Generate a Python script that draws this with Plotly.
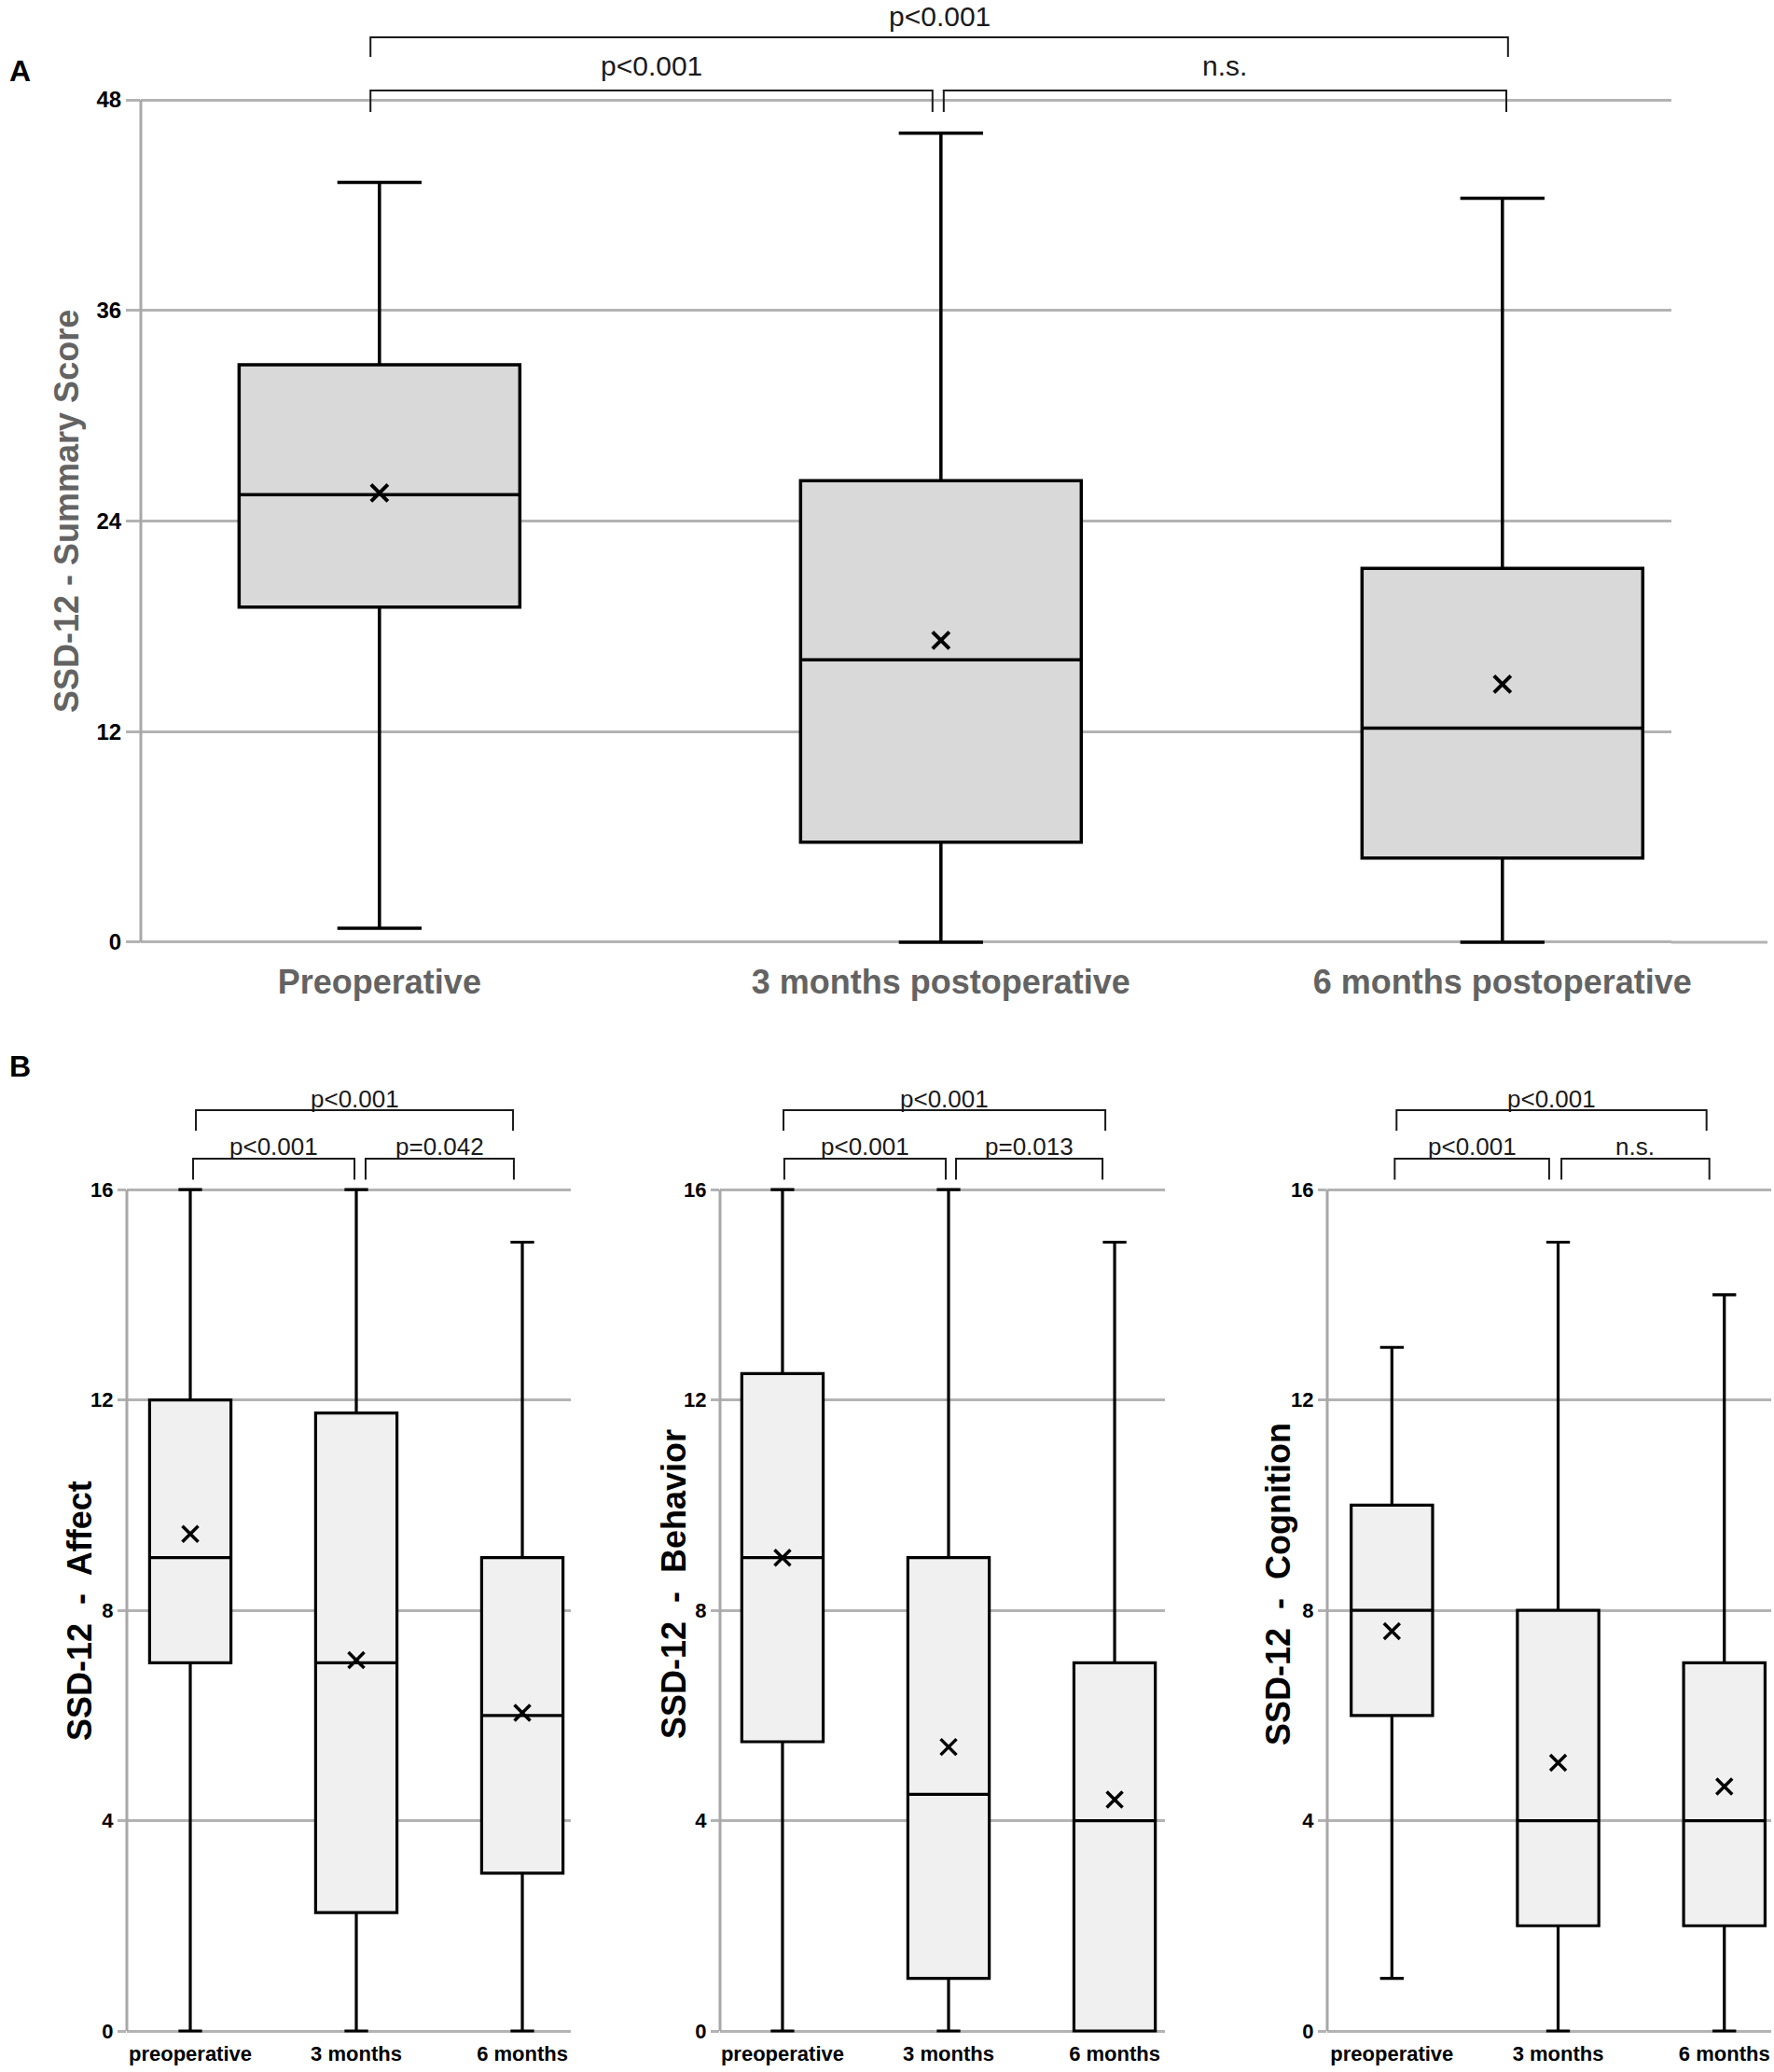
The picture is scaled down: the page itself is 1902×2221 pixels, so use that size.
import plotly.graph_objects as go

# ---------------- data ----------------
A_categories = ["Preoperative", "3 months postoperative", "6 months postoperative"]
A_q1 = [19.1, 5.7, 4.8]
A_median = [25.5, 16.1, 12.2]
A_q3 = [32.9, 26.3, 21.3]
A_lower = [0.8, 0.0, 0.0]
A_upper = [43.3, 46.1, 42.4]
A_mean = [25.6, 17.2, 14.7]
A_ticks = [0, 12, 24, 36, 48]
A_pvalues = ["p<0.001", "n.s.", "p<0.001"]  # pre-3m, 3m-6m, pre-6m

B_categories = ["preoperative", "3 months", "6 months"]
B_ticks = [0, 4, 8, 12, 16]

affect_q1 = [7.0, 2.25, 3.0]
affect_median = [9.0, 7.0, 6.0]
affect_q3 = [12.0, 11.75, 9.0]
affect_lower = [0.0, 0.0, 0.0]
affect_upper = [16.0, 16.0, 15.0]
affect_mean = [9.45, 7.05, 6.05]
affect_pvalues = ["p<0.001", "p=0.042", "p<0.001"]

behavior_q1 = [5.5, 1.0, 0.0]
behavior_median = [9.0, 4.5, 4.0]
behavior_q3 = [12.5, 9.0, 7.0]
behavior_lower = [0.0, 0.0, 0.0]
behavior_upper = [16.0, 16.0, 15.0]
behavior_mean = [9.0, 5.4, 4.4]
behavior_pvalues = ["p<0.001", "p=0.013", "p<0.001"]

cognition_q1 = [6.0, 2.0, 2.0]
cognition_median = [8.0, 4.0, 4.0]
cognition_q3 = [10.0, 8.0, 7.0]
cognition_lower = [1.0, 0.0, 0.0]
cognition_upper = [13.0, 15.0, 14.0]
cognition_mean = [7.6, 5.1, 4.65]
cognition_pvalues = ["p<0.001", "n.s.", "p<0.001"]

# ---------------- layout helpers ----------------
W, H = 1902, 2221
FONT = "Liberation Sans, Arial, sans-serif"
GRID = "#b3b3b3"
AXIS = "#a8a8a8"
GRAYTXT = "#636363"


def px_x(p):
    return p / W


def px_y(p):
    return 1 - p / H


def ypaper(dom, rng, v):
    return dom[0] + (v - rng[0]) / (rng[1] - rng[0]) * (dom[1] - dom[0])


fig = go.Figure()
shapes = []
annotations = []
layout = {}

# ---------------- panel A ----------------
A_xdom = [px_x(151), px_x(1792)]
A_ydom = [px_y(1014), 1.0]
A_xrng = [-0.425, 2.301]
A_yrng = [-0.213, 53.69]
xs = list(range(len(A_categories)))

fig.add_trace(go.Box(
    x=xs, q1=A_q1, median=A_median, q3=A_q3,
    lowerfence=A_lower, upperfence=A_upper,
    width=0.5, whiskerwidth=0.3, boxpoints=False,
    fillcolor="#d9d9d9", line=dict(color="black", width=3.5),
    xaxis="x", yaxis="y", showlegend=False, hoverinfo="skip"))
fig.add_trace(go.Scatter(
    x=xs, y=A_mean, mode="markers", cliponaxis=False,
    marker=dict(symbol="x-thin", size=18, line=dict(color="black", width=4)),
    xaxis="x", yaxis="y", showlegend=False, hoverinfo="skip"))

layout["xaxis"] = dict(domain=A_xdom, range=A_xrng, anchor="y", tickvals=xs, ticktext=A_categories,
                       showgrid=False, zeroline=False, showline=False, ticks="", automargin=False,
                       ticklabelstandoff=14,
                       tickfont=dict(family=FONT, size=36, color=GRAYTXT, weight="bold"))
layout["yaxis"] = dict(domain=A_ydom, range=A_yrng, anchor="x", tickvals=A_ticks, automargin=False,
                       showgrid=True, gridcolor=GRID, gridwidth=2.5, zeroline=False, showline=False,
                       ticks="outside", ticklen=15, tickwidth=2.5, tickcolor=GRID,
                       tickfont=dict(family=FONT, size=24, color="black", weight="bold"))

# left axis line A and extended bottom line
shapes.append(dict(type="line", xref="paper", yref="paper",
                   x0=A_xdom[0], x1=A_xdom[0],
                   y0=ypaper(A_ydom, A_yrng, 0), y1=ypaper(A_ydom, A_yrng, A_ticks[-1]),
                   line=dict(color=AXIS, width=3)))
shapes.append(dict(type="line", xref="paper", yref="paper",
                   x0=A_xdom[1], x1=px_x(1895),
                   y0=ypaper(A_ydom, A_yrng, 0), y1=ypaper(A_ydom, A_yrng, 0),
                   line=dict(color=GRID, width=3)))

annotations.append(dict(text="SSD-12 - Summary Score", xref="paper", yref="paper",
                         x=px_x(71), y=px_y(548), textangle=-90, showarrow=False,
                         xanchor="center", yanchor="middle",
                         font=dict(family=FONT, size=36, color=GRAYTXT, weight="bold")))
annotations.append(dict(text="A", xref="paper", yref="paper", x=px_x(21), y=px_y(76),
                        showarrow=False, xanchor="center", yanchor="middle",
                        font=dict(family=FONT, size=32, color="black", weight="bold")))


def add_brackets(xr, yr, spans, levels, texts, fsize, lw):
    # spans: [[x0,x1] lower-left, [x0,x1] lower-right, [x0,x1] top]
    # levels: (line_y, tick_bottom_y, text_y) for lower and top
    for i, (sp, txt) in enumerate(zip(spans, texts)):
        ly, by, ty = levels[0] if i < 2 else levels[1]
        shapes.append(dict(type="path", xref=xr, yref=yr,
                           path=f"M {sp[0]},{by} L {sp[0]},{ly} L {sp[1]},{ly} L {sp[1]},{by}",
                           line=dict(color="#1a1a1a", width=lw)))
        annotations.append(dict(text=txt, xref=xr, yref=yr, x=(sp[0] + sp[1]) / 2, y=ty,
                                showarrow=False, xanchor="center", yanchor="middle",
                                font=dict(family=FONT, size=fsize, color="#1a1a1a")))


add_brackets("x", "y", [[-0.016, 0.985], [1.005, 2.007], [-0.016, 2.010]],
             [(48.54, 47.31, 49.95), (51.57, 50.45, 52.75)], A_pvalues, 30, 2)

# ---------------- panel B ----------------
B_ydom = [px_y(2181), px_y(1150)]
B_yrng = [-0.071, 18.22]
panels = [
    dict(name="Affect", q1=affect_q1, med=affect_median, q3=affect_q3, lo=affect_lower, hi=affect_upper,
         mean=affect_mean, p=affect_pvalues, xdom=[136, 612], xrng=[-0.382, 2.292],
         spans=[[0.017, 0.989], [1.056, 1.949], [0.034, 1.944]], title_xy=(85, 1727)),
    dict(name="Behavior", q1=behavior_q1, med=behavior_median, q3=behavior_q3, lo=behavior_lower,
         hi=behavior_upper, mean=behavior_mean, p=behavior_pvalues, xdom=[772, 1249], xrng=[-0.376, 2.303],
         spans=[[0.011, 0.983], [1.045, 1.927], [0.006, 1.944]], title_xy=(722, 1698)),
    dict(name="Cognition", q1=cognition_q1, med=cognition_median, q3=cognition_q3, lo=cognition_lower,
         hi=cognition_upper, mean=cognition_mean, p=cognition_pvalues, xdom=[1423, 1899], xrng=[-0.389, 2.282],
         spans=[[0.017, 0.946], [1.020, 1.910], [0.028, 1.893]], title_xy=(1370, 1698)),
]
xb = list(range(len(B_categories)))
for k, pnl in enumerate(panels):
    n = k + 2
    xa, ya = f"x{n}", f"y{n}"
    fig.add_trace(go.Box(
        x=xb, q1=pnl["q1"], median=pnl["med"], q3=pnl["q3"],
        lowerfence=pnl["lo"], upperfence=pnl["hi"],
        width=0.49, whiskerwidth=0.29, boxpoints=False,
        fillcolor="#f0f0f0", line=dict(color="black", width=3.2),
        xaxis=xa, yaxis=ya, showlegend=False, hoverinfo="skip"))
    fig.add_trace(go.Scatter(
        x=xb, y=pnl["mean"], mode="markers", cliponaxis=False,
        marker=dict(symbol="x-thin", size=17, line=dict(color="black", width=3.5)),
        xaxis=xa, yaxis=ya, showlegend=False, hoverinfo="skip"))
    xdom = [px_x(pnl["xdom"][0]), px_x(pnl["xdom"][1])]
    layout[f"xaxis{n}"] = dict(domain=xdom, range=pnl["xrng"], anchor=ya, tickvals=xb,
                               ticktext=B_categories, showgrid=False, zeroline=False,
                               showline=False, ticks="", ticklabelstandoff=5, automargin=False,
                               tickfont=dict(family=FONT, size=22, color="black", weight="bold"))
    layout[f"yaxis{n}"] = dict(domain=B_ydom, range=B_yrng, anchor=xa, tickvals=B_ticks,
                               showgrid=True, gridcolor=GRID, gridwidth=2.5, zeroline=False,
                               showline=False, ticks="outside", ticklen=9, tickwidth=2.5,
                               tickcolor=GRID, automargin=False,
                               tickfont=dict(family=FONT, size=22, color="black", weight="bold"))
    shapes.append(dict(type="line", xref="paper", yref="paper", x0=xdom[0], x1=xdom[0],
                       y0=ypaper(B_ydom, B_yrng, 0), y1=ypaper(B_ydom, B_yrng, B_ticks[-1]),
                       line=dict(color=AXIS, width=3)))
    annotations.append(dict(text=f"SSD-12  -  {pnl['name']}", xref="paper", yref="paper",
                            x=px_x(pnl["title_xy"][0]), y=px_y(pnl["title_xy"][1]),
                            textangle=-90, showarrow=False, xanchor="center", yanchor="middle",
                            font=dict(family=FONT, size=36, color="black", weight="bold")))
    add_brackets(xa, ya, pnl["spans"], [(16.59, 16.19, 16.82), (17.51, 17.12, 17.72)],
                 pnl["p"], 26, 2)

annotations.append(dict(text="B", xref="paper", yref="paper", x=px_x(21), y=px_y(1143),
                        showarrow=False, xanchor="center", yanchor="middle",
                        font=dict(family=FONT, size=32, color="black", weight="bold")))

fig.update_layout(**layout)
fig.update_layout(width=W, height=H, margin=dict(l=0, r=0, t=0, b=0, autoexpand=False),
                  paper_bgcolor="white", plot_bgcolor="white",
                  shapes=shapes, annotations=annotations, showlegend=False)

fig.write_html("out.html", config={"displayModeBar": False},
               post_script="document.body.style.margin='0px';")
